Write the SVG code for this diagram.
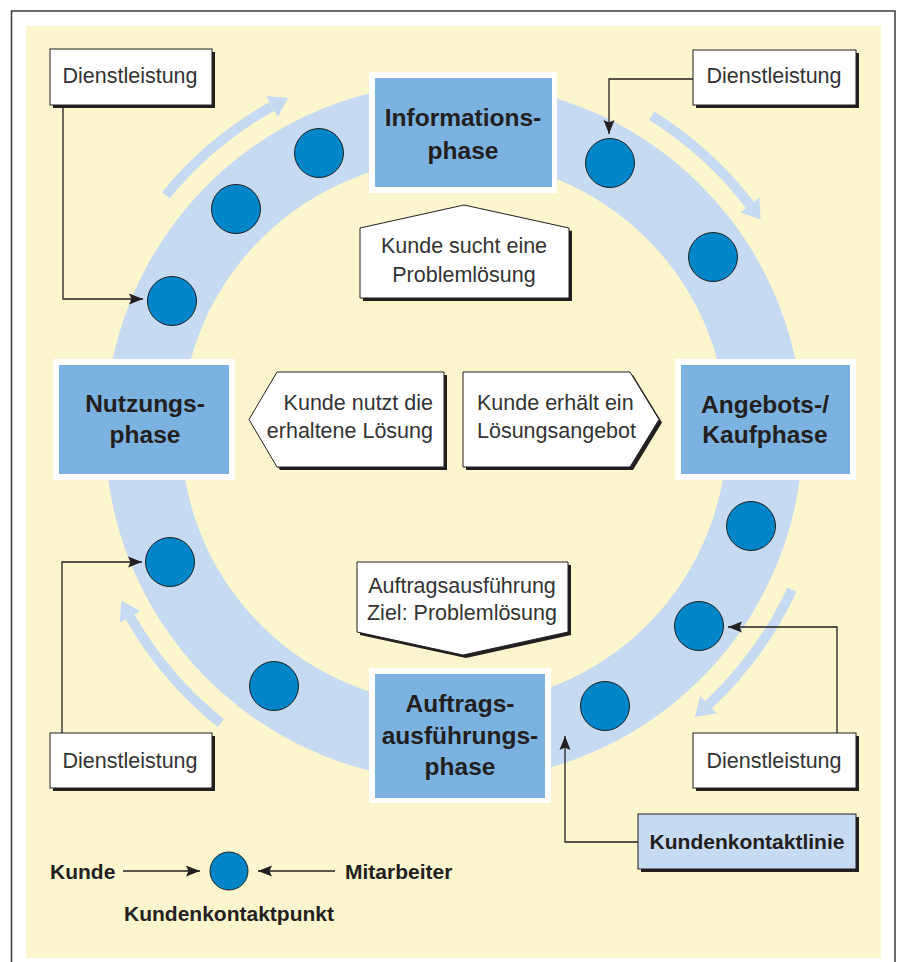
<svg xmlns="http://www.w3.org/2000/svg" width="899" height="962" viewBox="0 0 899 962">
<defs>
<style>
.bg{fill:#FCF6CE}
.ring{fill:none;stroke:#C6DBF1;stroke-width:76}
.stripe{fill:none;stroke:#C6DBF1;stroke-width:10}
.head{fill:#C6DBF1}
.kp{fill:#0085C9;stroke:#231F20;stroke-width:1}
.pw{fill:#FFFFFF}
.pb{fill:#7BB2E0}
.ptxt{font-family:"Liberation Sans",Arial,sans-serif;font-weight:bold;font-size:24.5px;fill:#231F20;text-anchor:middle}
.shadow{fill:#231F20}
.box{fill:#FFFFFF;stroke:#231F20;stroke-width:1}
.kbox{fill:#C6DBF1;stroke:#231F20;stroke-width:1}
.txt{font-family:"Liberation Sans",Arial,sans-serif;font-size:21.5px;fill:#333333}
.btxt{font-family:"Liberation Sans",Arial,sans-serif;font-weight:bold;font-size:21px;fill:#231F20}
.conn{fill:none;stroke:#231F20;stroke-width:1.3}
</style>
<marker id="ah" markerWidth="15" markerHeight="12" refX="14" refY="6" orient="auto" markerUnits="userSpaceOnUse">
<path d="M0,0.5 L14,6 L0,11.5 L2.5,6 Z" fill="#231F20"/>
</marker>
</defs>

<rect x="0" y="0" width="899" height="962" fill="#FFFFFF"/>
<rect x="11.5" y="11" width="883.5" height="960" fill="#FFFFFF" stroke="#3A3A3A" stroke-width="1.5"/>
<rect class="bg" x="26" y="26" width="855" height="932"/>

<g id="ring">
<circle class="ring" cx="454" cy="432" r="311"/>
</g>

<g id="flow-arrows">
<path class="stripe" d="M165.8,195.3 A373,373 0 0 1 272.0,106.4"/>
<polygon class="head" points="288.2,97.9 277.9,116.9 266.2,95.9"/>
<path class="stripe" d="M651.7,115.7 A373,373 0 0 1 749.9,204.9"/>
<polygon class="head" points="760.6,219.6 740.4,212.2 759.5,197.6"/>
<path class="stripe" d="M792.0,589.6 A373,373 0 0 1 708.4,704.8"/>
<polygon class="head" points="694.8,716.9 700.2,696.0 716.6,713.6"/>
<path class="stripe" d="M220.8,723.1 A373,373 0 0 1 130.0,616.8"/>
<polygon class="head" points="121.4,600.7 140.4,610.9 119.6,622.8"/>
</g>

<g id="kontaktpunkte">
<circle class="kp" cx="319" cy="153" r="24.5"/>
<circle class="kp" cx="236" cy="209" r="24.5"/>
<circle class="kp" cx="172" cy="301" r="24.5"/>
<circle class="kp" cx="610" cy="163" r="24.5"/>
<circle class="kp" cx="713" cy="257" r="24.5"/>
<circle class="kp" cx="751" cy="526" r="24.5"/>
<circle class="kp" cx="699" cy="626" r="24.5"/>
<circle class="kp" cx="605" cy="706" r="24.5"/>
<circle class="kp" cx="274" cy="686" r="24.5"/>
<circle class="kp" cx="170" cy="562" r="24.5"/>
</g>

<g id="informationsphase">
<rect class="pw" x="369" y="72" width="188" height="121"/>
<rect class="pb" x="375" y="78" width="177" height="109"/>
<text class="ptxt" x="463" y="126">Informations-</text>
<text class="ptxt" x="463" y="159">phase</text>
</g>

<g id="nutzungsphase">
<rect class="pw" x="53" y="359" width="182" height="121"/>
<rect class="pb" x="59" y="365" width="170" height="109"/>
<text class="ptxt" x="145" y="412">Nutzungs-</text>
<text class="ptxt" x="145" y="443">phase</text>
</g>

<g id="angebotsphase">
<rect class="pw" x="675" y="359" width="181" height="121"/>
<rect class="pb" x="681" y="365" width="169" height="109"/>
<text class="ptxt" x="765" y="413">Angebots-/</text>
<text class="ptxt" x="765" y="443">Kaufphase</text>
</g>

<g id="auftragsphase">
<rect class="pw" x="369" y="668" width="182" height="135"/>
<rect class="pb" x="375" y="674" width="170" height="124"/>
<text class="ptxt" x="460" y="712">Auftrags-</text>
<text class="ptxt" x="460" y="744">ausführungs-</text>
<text class="ptxt" x="460" y="775">phase</text>
</g>

<g id="callout-top">
<polygon class="shadow" points="363,231 467,208 572,231 572,301 363,301"/>
<polygon class="box" points="360,228 464,205 569,228 569,298 360,298"/>
<text class="txt" x="464" y="253" text-anchor="middle">Kunde sucht eine</text>
<text class="txt" x="464" y="282" text-anchor="middle">Problemlösung</text>
</g>

<g id="callout-left">
<polygon class="shadow" points="252,422.5 280,375 447,375 447,470 280,470"/>
<polygon class="box" points="249,419.5 277,372 444,372 444,467 277,467"/>
<text class="txt" x="433" y="410" text-anchor="end">Kunde nutzt die</text>
<text class="txt" x="433" y="438" text-anchor="end">erhaltene Lösung</text>
</g>

<g id="callout-right">
<polygon class="shadow" points="466,375 633,375 662,422.5 633,470 466,470"/>
<polygon class="box" points="463,372 630,372 659,419.5 630,467 463,467"/>
<text class="txt" x="477" y="410">Kunde erhält ein</text>
<text class="txt" x="477" y="438">Lösungsangebot</text>
</g>

<g id="callout-bottom">
<polygon class="shadow" points="360,565 571,565 571,635 466,658 360,635"/>
<polygon class="box" points="357,562 568,562 568,632 463,655 357,632"/>
<text class="txt" x="462" y="593" text-anchor="middle">Auftragsausführung</text>
<text class="txt" x="462" y="620" text-anchor="middle">Ziel: Problemlösung</text>
</g>

<g id="dienstleistung-tl">
<rect class="shadow" x="53" y="52" width="162" height="56"/>
<rect class="box" x="50" y="49" width="162" height="56"/>
<text class="txt" x="130" y="83" text-anchor="middle">Dienstleistung</text>
</g>
<g id="dienstleistung-tr">
<rect class="shadow" x="696" y="53" width="163" height="55"/>
<rect class="box" x="693" y="50" width="163" height="55"/>
<text class="txt" x="774" y="83" text-anchor="middle">Dienstleistung</text>
</g>
<g id="dienstleistung-bl">
<rect class="shadow" x="53" y="736" width="162" height="55"/>
<rect class="box" x="50" y="733" width="162" height="55"/>
<text class="txt" x="130" y="768" text-anchor="middle">Dienstleistung</text>
</g>
<g id="dienstleistung-br">
<rect class="shadow" x="696" y="736" width="163" height="55"/>
<rect class="box" x="693" y="733" width="163" height="55"/>
<text class="txt" x="774" y="768" text-anchor="middle">Dienstleistung</text>
</g>

<g id="kundenkontaktlinie">
<rect class="shadow" x="641" y="817" width="218" height="55"/>
<rect class="kbox" x="638" y="814" width="218" height="55"/>
<text class="btxt" x="747" y="849" text-anchor="middle">Kundenkontaktlinie</text>
</g>

<g id="connectors">
<path class="conn" d="M63,105 V299 H143" marker-end="url(#ah)"/>
<path class="conn" d="M693,79 H609 V134" marker-end="url(#ah)"/>
<path class="conn" d="M62,733 V562 H142" marker-end="url(#ah)"/>
<path class="conn" d="M837,733 V627 H728" marker-end="url(#ah)"/>
<path class="conn" d="M638,842 H565 V736" marker-end="url(#ah)"/>
<path class="conn" d="M123,871 H200" marker-end="url(#ah)"/>
<path class="conn" d="M335,871 H258" marker-end="url(#ah)"/>
</g>

<g id="legende">
<text class="btxt" x="50" y="878.5">Kunde</text>
<circle class="kp" cx="229" cy="871" r="19"/>
<text class="btxt" x="345" y="878.5">Mitarbeiter</text>
<text class="btxt" x="124" y="921">Kundenkontaktpunkt</text>
</g>
</svg>
